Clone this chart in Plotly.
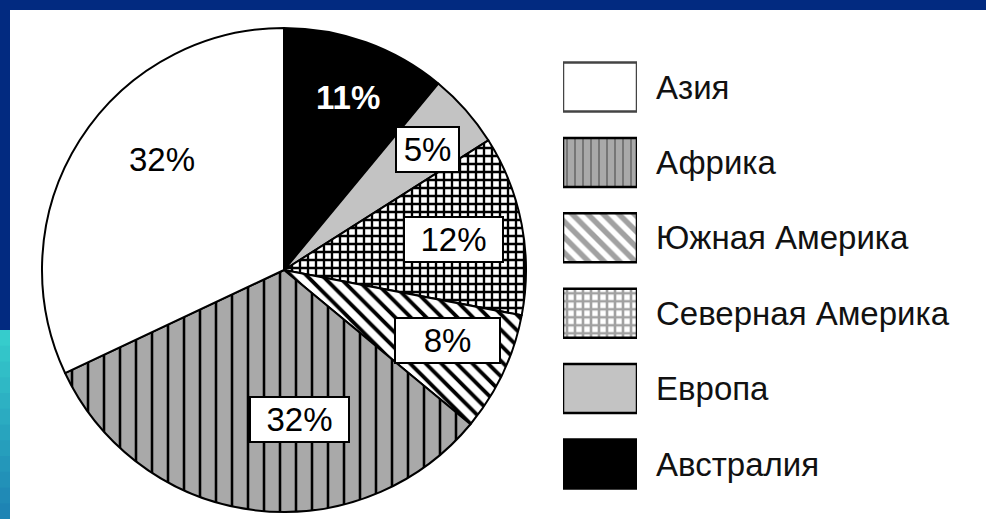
import math
import plotly.graph_objects as go

# ---- data ----
regions = ["Азия", "Африка", "Южная Америка", "Северная Америка", "Европа", "Австралия"]
shares = [32, 32, 8, 12, 5, 11]
pct_labels = ["32%", "32%", "8%", "12%", "5%", "11%"]

# ---- styles ----
W, H = 986, 519
FONT = "Liberation Sans, Arial, sans-serif"
bg_colors = ["#ffffff", "#a9a9a9", "#ffffff", "#ffffff", "#c3c3c3", "#000000"]
pat_shapes = ["", "|", "\\", "+", "", ""]
pat_fg = ["#000000"] * 6
pie_pat_size = [10, 16, 11, 8, 10, 10]
pie_pat_sol = [0.3, 0.16, 0.35, 0.5, 0.3, 0.3]
leg_pat_size = [10, 8, 11, 8, 10, 10]
leg_pat_sol = [0.3, 0.25, 0.5, 0.55, 0.3, 0.3]
leg_border = ["#444444", "#000000", "#000000", "#000000", "#000000", "#000000"]
# label placement: (radius fraction, angle offset in degrees, boxed, box width, text colour, bold)
label_style = [
    (0.68, 10, False, 0, "#000000", False),
    (0.62, -13, True, 97, "#000000", False),
    (0.735, -2, True, 103, "#000000", False),
    (0.71, 0.6, True, 97, "#000000", False),
    (0.775, 1.3, True, 61, "#000000", False),
    (0.76, 0.7, False, 0, "#ffffff", True),
]

# pie geometry (pixels)
CX, CY, R = 284, 270, 242

fig = go.Figure()

# pie drawn clockwise from 12 o'clock: Австралия, Европа, ... , Азия
fig.add_trace(go.Pie(
    labels=regions[::-1],
    values=shares[::-1],
    sort=False,
    direction="clockwise",
    rotation=0,
    textinfo="none",
    hoverinfo="label+percent",
    showlegend=False,
    domain=dict(x=[(CX - R) / W, (CX + R) / W], y=[1 - (CY + R) / H, 1 - (CY - R) / H]),
    marker=dict(
        colors=bg_colors[::-1],
        line=dict(color="#000000", width=2),
        pattern=dict(shape=pat_shapes[::-1], fgcolor=pat_fg[::-1], bgcolor=bg_colors[::-1],
                     size=pie_pat_size[::-1], solidity=pie_pat_sol[::-1]),
    ),
))

# legend drawn as patterned bars
fig.add_trace(go.Bar(
    y=regions,
    x=[1] * len(regions),
    orientation="h",
    width=0.65,
    showlegend=False,
    hoverinfo="y",
    marker=dict(
        color=bg_colors,
        line=dict(color=leg_border, width=2.5),
        pattern=dict(shape=pat_shapes, fgcolor=pat_fg, bgcolor=bg_colors,
                     size=leg_pat_size, solidity=leg_pat_sol),
    ),
))

# percentage labels positioned from the slice angles (clockwise from top, reversed order)
annotations = []
total = sum(shares)
cum = 0
for name, v, txt, st in list(zip(regions, shares, pct_labels, label_style))[::-1]:
    rf, off, boxed, bw, col, bold = st
    mid_cw = (cum + v / 2) / total * 360
    cum += v
    theta = math.radians(mid_cw + off)
    px = CX + rf * R * math.sin(theta)
    py = CY - rf * R * math.cos(theta)
    a = dict(
        x=px / W, y=1 - py / H, xref="paper", yref="paper",
        text=f"<b>{txt}</b>" if bold else txt,
        showarrow=False,
        font=dict(family=FONT, size=33, color=col),
        xanchor="center", yanchor="middle",
    )
    if boxed:
        a.update(bgcolor="#ffffff", bordercolor="#000000", borderwidth=2,
                 borderpad=0, width=bw, height=43)
    annotations.append(a)

shapes = [
    dict(type="rect", xref="paper", yref="paper", x0=10 / W, x1=1, y0=0, y1=1 - 10 / H,
         fillcolor="#ffffff", line=dict(width=0), layer="below"),
]
# cyan strip at the lower left edge
top_c = (54, 204, 204)
bot_c = (30, 132, 180)
steps = 12
y_top = 330
for i in range(steps):
    t = i / (steps - 1)
    c = tuple(int(top_c[k] + (bot_c[k] - top_c[k]) * t) for k in range(3))
    y0 = y_top + (H - y_top) * i / steps
    y1 = y_top + (H - y_top) * (i + 1) / steps + 1
    shapes.append(dict(type="rect", xref="paper", yref="paper", x0=0, x1=10 / W,
                       y0=max(0, 1 - y1 / H), y1=1 - y0 / H,
                       fillcolor="rgb(%d,%d,%d)" % c, line=dict(width=0), layer="below"))

fig.update_layout(
    width=W, height=H,
    margin=dict(l=0, r=0, t=0, b=0),
    paper_bgcolor="#022a80",
    plot_bgcolor="rgba(0,0,0,0)",
    font=dict(family=FONT, size=33, color="#000000"),
    annotations=annotations,
    shapes=shapes,
    xaxis=dict(domain=[563 / W, 637 / W], range=[0, 1], showgrid=False, zeroline=False,
               showticklabels=False, showline=False, fixedrange=True),
    yaxis=dict(domain=[1 - 501.7 / H, 1 - 49.3 / H], side="right", autorange="reversed",
               showgrid=False, zeroline=False, showline=False, ticks="",
               ticklabelstandoff=18, fixedrange=True,
               tickfont=dict(family=FONT, size=33, color="#111111")),
)

fig.write_html("out.html", config={"displayModeBar": False},
               post_script="document.body.style.margin='0';document.body.style.overflow='hidden';")
